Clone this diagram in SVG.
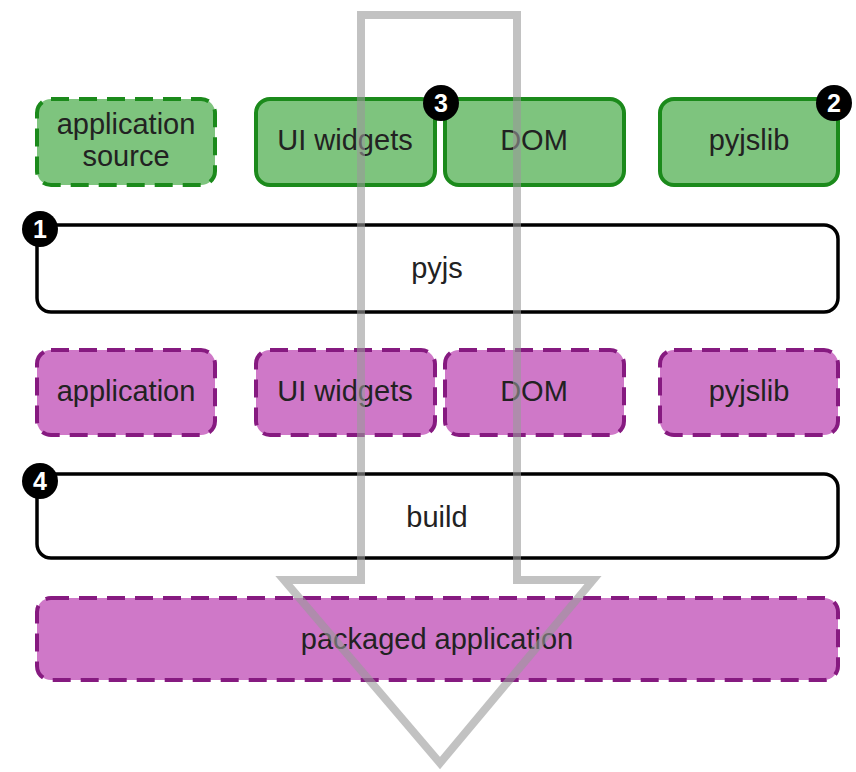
<svg xmlns="http://www.w3.org/2000/svg" width="856" height="772" viewBox="0 0 856 772">
<style>
.g{fill:#7ec47e;stroke:#1b8a1b;stroke-width:4}
.m{fill:#cf78c8;stroke:#861a80;stroke-width:4;stroke-dasharray:18 10}
.d{stroke-dasharray:18 10}
.w{fill:#fff;stroke:#000;stroke-width:3.5}
.t{font-family:"Liberation Sans",Arial,sans-serif;font-size:29px;fill:#222;text-anchor:middle}
.b{fill:#000}
.bt{font-family:"Liberation Sans",Arial,sans-serif;font-size:25px;font-weight:bold;fill:#fff;text-anchor:middle}
</style>
<rect width="856" height="772" fill="#fff"/>
<g id="app-source"><rect class="g d" x="37" y="99" width="178" height="86" rx="14"/><text class="t" x="126" y="134">application</text><text class="t" x="126" y="166">source</text></g>
<g id="ui-widgets-src"><rect class="g" x="256" y="99" width="179" height="86" rx="14"/><text class="t" x="345" y="150">UI widgets</text></g>
<g id="dom-src"><rect class="g" x="445" y="99" width="179" height="86" rx="14"/><text class="t" x="534" y="150">DOM</text></g>
<g id="pyjslib-src"><rect class="g" x="660" y="99" width="178" height="86" rx="14"/><text class="t" x="749" y="150">pyjslib</text></g>
<g id="pyjs"><rect class="w" x="37" y="225" width="801" height="87" rx="14"/><text class="t" x="437" y="278">pyjs</text></g>
<g id="application"><rect class="m" x="37" y="350" width="178" height="85" rx="14"/><text class="t" x="126" y="401">application</text></g>
<g id="ui-widgets-js"><rect class="m" x="256" y="350" width="179" height="85" rx="14"/><text class="t" x="345" y="401">UI widgets</text></g>
<g id="dom-js"><rect class="m" x="445" y="350" width="179" height="85" rx="14"/><text class="t" x="534" y="401">DOM</text></g>
<g id="pyjslib-js"><rect class="m" x="660" y="350" width="178" height="85" rx="14"/><text class="t" x="749" y="401">pyjslib</text></g>
<g id="build"><rect class="w" x="37" y="474" width="801" height="84" rx="14"/><text class="t" x="437" y="527">build</text></g>
<g id="packaged"><rect class="m" x="37" y="598" width="801" height="82" rx="14"/><text class="t" x="437" y="649">packaged application</text></g>
<g id="connectors"><path d="M361 15 H517 V580 H593 L440 763 L284 580 H361 Z" fill="none" stroke="#999" stroke-opacity="0.6" stroke-width="8" stroke-linejoin="miter"/></g>
<g id="badge-1"><circle class="b" cx="40" cy="229" r="18"/><text class="bt" x="40" y="238">1</text></g>
<g id="badge-2"><circle class="b" cx="834" cy="103" r="18"/><text class="bt" x="834" y="112">2</text></g>
<g id="badge-3"><circle class="b" cx="441" cy="103" r="18"/><text class="bt" x="441" y="112">3</text></g>
<g id="badge-4"><circle class="b" cx="40" cy="481" r="18"/><text class="bt" x="40" y="490">4</text></g>
</svg>
